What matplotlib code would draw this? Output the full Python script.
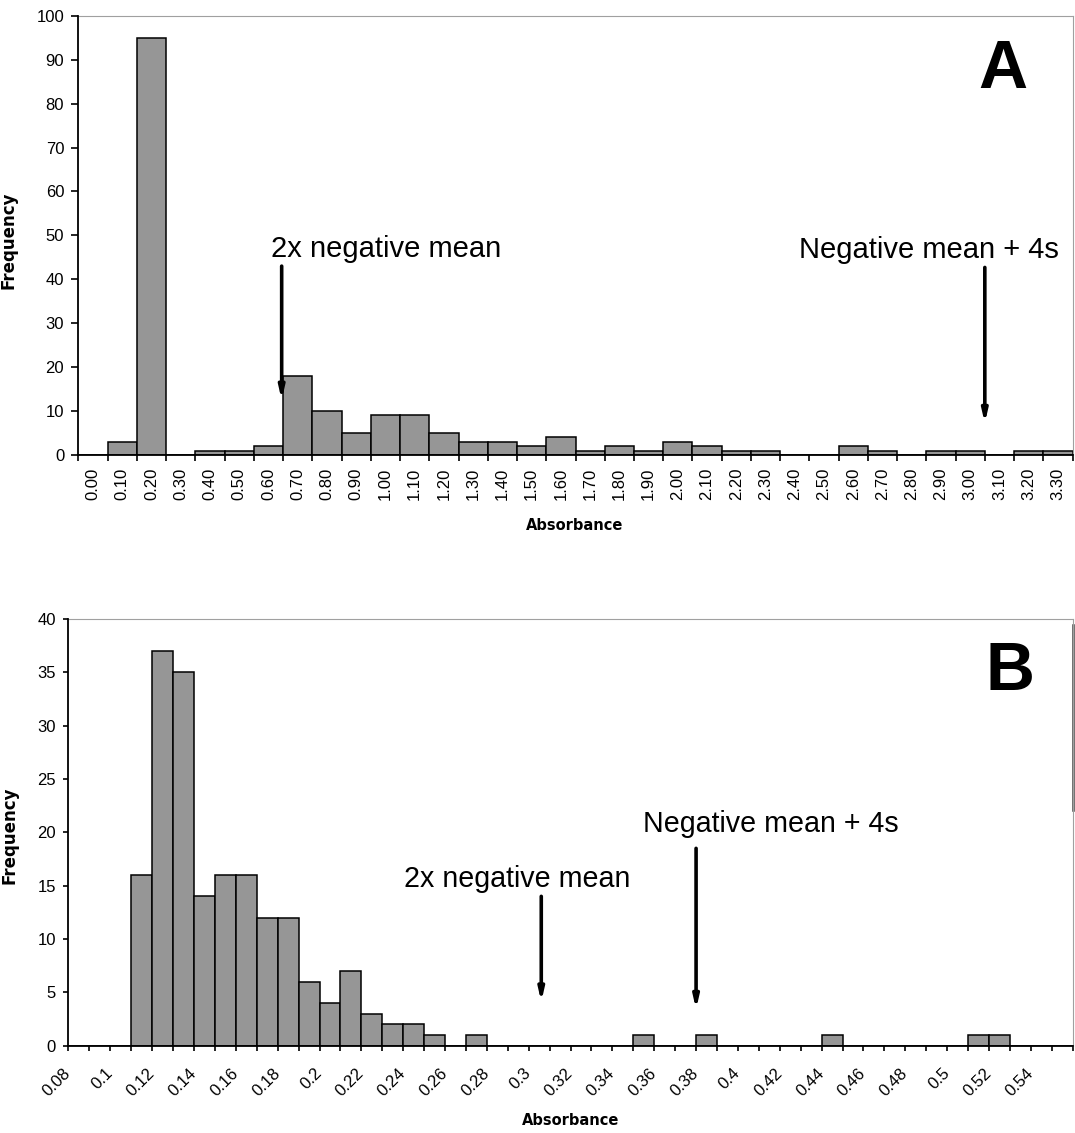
import matplotlib
matplotlib.use("Agg")
import matplotlib.pyplot as plt
import numpy as np

# ---- panel A: absorbance categories (bin centres) and counts ----
labels_a = ["0.00", "0.10", "0.20", "0.30", "0.40", "0.50", "0.60", "0.70",
            "0.80", "0.90", "1.00", "1.10", "1.20", "1.30", "1.40", "1.50",
            "1.60", "1.70", "1.80", "1.90", "2.00", "2.10", "2.20", "2.30",
            "2.40", "2.50", "2.60", "2.70", "2.80", "2.90", "3.00", "3.10",
            "3.20", "3.30"]
freq_a = [0, 3, 95, 0, 1, 1, 2, 18, 10, 5, 9, 9, 5, 3, 3, 2, 4, 1, 2, 1,
          3, 2, 1, 1, 0, 0, 2, 1, 0, 1, 1, 0, 1, 1]

# ---- panel B: absorbance bins (left edges, step 0.01 from 0.08) and counts ----
bin_start_b = 0.08
bin_step_b = 0.01
freq_b = [0, 0, 0, 16, 37, 35, 14, 16, 16, 12, 12, 6, 4, 7, 3, 2, 2, 1, 0, 1,
          0, 0, 0, 0, 0, 0, 0, 1, 0, 0, 1, 0, 0, 0, 0, 0, 1, 0, 0, 0,
          0, 0, 0, 1, 1, 0, 0, 0]
labels_b = ["0.08", "0.1", "0.12", "0.14", "0.16", "0.18", "0.2", "0.22",
            "0.24", "0.26", "0.28", "0.3", "0.32", "0.34", "0.36", "0.38",
            "0.4", "0.42", "0.44", "0.46", "0.48", "0.5", "0.52", "0.54"]

TICKFONT = "Liberation Sans"
BAR = "#969696"
FRAME = "#a0a0a0"

fig = plt.figure(figsize=(10.75, 11.33), dpi=100)
axA = fig.add_axes([0.073, 0.5984, 0.9247, 0.3877])
axB = fig.add_axes([0.0637, 0.0771, 0.9341, 0.3765])

for ax in (axA, axB):
    ax.spines["top"].set_color(FRAME)
    ax.spines["right"].set_color(FRAME)
    ax.spines["left"].set_linewidth(1.3)
    ax.spines["bottom"].set_linewidth(1.3)
    ax.spines["left"].set_zorder(5)
    ax.spines["bottom"].set_zorder(5)

# ---------------- panel A ----------------
centers_a = [float(s) for s in labels_a]
axA.bar(centers_a, freq_a, width=0.1, color=BAR, edgecolor="black", linewidth=1.1)
axA.set_xlim(-0.05, 3.35)
axA.set_ylim(0, 100)
axA.set_yticks(np.arange(0, 101, 10))
axA.set_xticks(centers_a, labels_a, rotation=90, fontsize=12, family=TICKFONT)
axA.set_xticks(np.arange(len(labels_a) + 1) * 0.1 - 0.05, minor=True)
axA.tick_params(axis="x", which="major", length=0, pad=8.9)
axA.tick_params(axis="x", which="minor", length=4.5, width=1.2)
axA.tick_params(axis="y", length=4.8, width=1.2, pad=5.5)
for t in axA.get_yticklabels():
    t.set_fontsize(12)
    t.set_family(TICKFONT)

axA.set_ylabel("Frequency", fontsize=12, fontweight="bold")
axA.yaxis.set_label_coords(-0.061, 0.49)
axA.set_xlabel("Absorbance", fontsize=10.5, fontweight="bold")
axA.xaxis.set_label_coords(0.4995, -0.143)

arrow = dict(arrowstyle="-|>,head_length=0.7,head_width=0.16", color="black",
             lw=2.6, shrinkA=0, shrinkB=0)
axA.text(0.608, 45.0, "2x negative mean", fontsize=21, family=TICKFONT,
         ha="left", va="baseline")
axA.annotate("", xy=(0.645, 12.5), xytext=(0.645, 43.0), arrowprops=arrow)
axA.text(2.416, 44.8, "Negative mean + 4s", fontsize=21, family=TICKFONT,
         ha="left", va="baseline")
axA.annotate("", xy=(3.05, 7.2), xytext=(3.05, 42.7), arrowprops=arrow)
axA.text(0.930, 0.835, "A", transform=axA.transAxes, fontsize=49,
         fontweight="bold", family=TICKFONT, ha="center", va="baseline")

# ---------------- panel B ----------------
edges_b = bin_start_b + bin_step_b * np.arange(len(freq_b))
axB.bar(edges_b, freq_b, width=bin_step_b, align="edge", color=BAR,
        edgecolor="black", linewidth=1.1)
x_end = bin_start_b + bin_step_b * len(freq_b)
axB.set_xlim(bin_start_b, x_end)
axB.set_ylim(0, 40)
axB.set_yticks(np.arange(0, 41, 5))
axB.set_xticks([float(s) for s in labels_b], labels_b, rotation=45,
               ha="right", va="center", rotation_mode="anchor",
               fontsize=12, family=TICKFONT)
axB.set_xticks(np.append(edges_b, x_end), minor=True)
axB.tick_params(axis="x", which="both", length=3.6, width=1.2, pad=14.4)
axB.tick_params(axis="y", length=3.6, width=1.2, pad=5.5)
for t in axB.get_yticklabels():
    t.set_fontsize(12)
    t.set_family(TICKFONT)

axB.set_ylabel("Frequency", fontsize=12, fontweight="bold")
axB.yaxis.set_label_coords(-0.05, 0.4925)
axB.set_xlabel("Absorbance", fontsize=10.5, fontweight="bold")
axB.xaxis.set_label_coords(0.5005, -0.157)

axB.text(0.2403, 14.87, "2x negative mean", fontsize=20.6, family=TICKFONT,
         ha="left", va="baseline")
axB.annotate("", xy=(0.306, 4.1), xytext=(0.306, 14.0), arrowprops=arrow)
axB.text(0.3544, 20.03, "Negative mean + 4s", fontsize=20.6, family=TICKFONT,
         ha="left", va="baseline")
axB.annotate("", xy=(0.38, 3.4), xytext=(0.38, 18.5), arrowprops=arrow)
axB.text(0.9376, 0.8336, "B", transform=axB.transAxes, fontsize=49,
         fontweight="bold", family=TICKFONT, ha="center", va="baseline")
# darker stretch on the right frame of panel B
axB.plot([1, 1], [0.552, 0.986], transform=axB.transAxes, color="#444444",
         lw=1.8, clip_on=False)

fig.savefig("out.png", dpi=100, facecolor="white")
